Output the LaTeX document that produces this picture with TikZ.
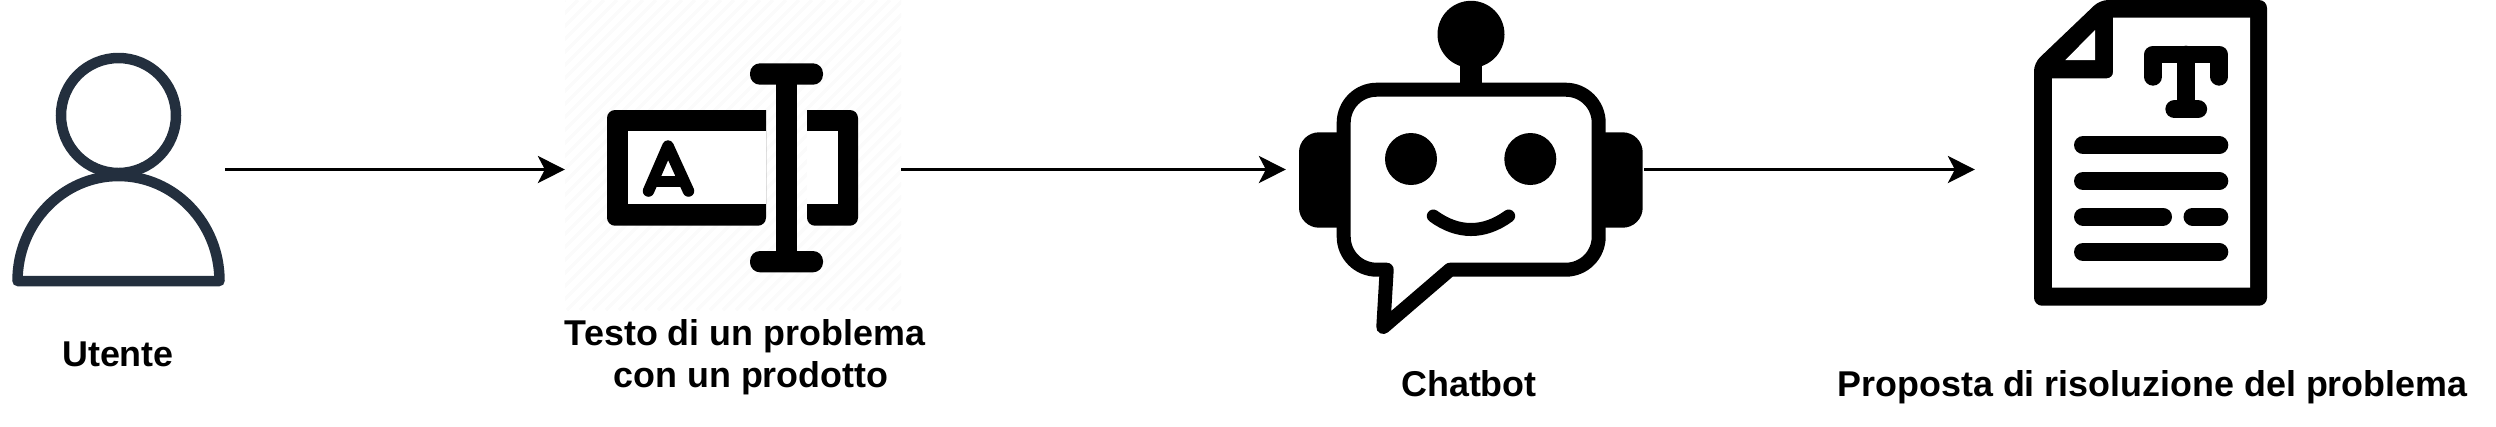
\documentclass[tikz,border=0pt]{standalone}
\usepackage{fontspec}
\setmainfont{Liberation Sans}
\usetikzlibrary{arrows.meta, positioning}

\begin{document}
\begin{tikzpicture}[
        x=0.01cm, y=-0.01cm,
        >={Stealth[length=0.27cm, width=0.27cm, inset=0.07cm]},
        box/.style={inner sep=0pt, outer sep=0pt, minimum height=2.35cm},
        e/.style={->, line width=0.033cm},
        lbl/.style={font=\bfseries\fontsize{10.2pt}{12pt}\selectfont, anchor=base, inner sep=0pt},
        person/.style={draw=personblue, line width=0.105cm, line join=round},
        bar/.style={line width=0.18cm, line cap=round},
        stem/.style={line width=0.177cm, line cap=round, line join=round}
    ]
        \definecolor{personblue}{HTML}{232F3E}
        \definecolor{hatch}{HTML}{FBFBFB}
        \useasboundingbox (0,0) rectangle (2496,426);

        % faint stripes behind the text icon
        \begin{scope}
            \clip (565,0) rectangle (901,310);
            \foreach \k in {565,578,...,1215} {
                \draw[hatch, line width=0.035cm] (\k,0) -- (\k-310,310);
            }
        \end{scope}

        \node[box, minimum width=2.13cm] (utente) at (118.5,169.5) {};
        \node[box, minimum width=3.36cm] (testo) at (733,169.5) {};
        \node[box, minimum width=3.58cm] (chatbot) at (1465,169.5) {};
        \node[box, minimum width=3.51cm] (proposta) at (2150.5,169.5) {};

        \draw[e] (utente) -- (testo);
        \draw[e] (testo) -- (chatbot);
        \draw[e] (chatbot) -- (proposta);

        \node[lbl] (lblutente) at (118,366) {Utente};
        \node[lbl] (lbltesto) at (745,345) {Testo di un problema};
        \node[lbl] (lbltesto2) at (751,387) {con un prodotto};
        \node[lbl] (lblchatbot) at (1469,396) {Chatbot};
        \node[lbl] (lblproposta) at (2152.5,396) {Proposta di risoluzione del problema};

        % utente
        \draw[person] (118.5,115.5) circle (57.5);
        \draw[person] (17.5,281) arc[start angle=180, end angle=360, x radius=101, y radius=105] -- cycle;

        % testo
        \fill (766,110) [rounded corners=0.08cm] -- (607,110) -- (607,225.7) -- (766,225.7) [sharp corners] -- cycle;
        \fill[white] (627.5,131.3) rectangle (766,204.3);
        \fill (807,110) [rounded corners=0.08cm] -- (858,110) -- (858,225.7) -- (807,225.7) [sharp corners] -- cycle;
        \fill[white] (807,131.3) rectangle (837.5,204.3);
        \fill (776,70) rectangle (797,265);
        \fill[rounded corners=0.1cm] (750,63.3) rectangle (823,84.7);
        \fill[rounded corners=0.1cm] (750,251) rectangle (823,272.3);
        \draw[line width=0.115cm, line cap=round, line join=round] (648.5,191) -- (668,146) -- (688.5,191);
        \draw[line width=0.11cm] (655,181.5) -- (681,181.5);

        % chatbot
        \fill (1471,34.3) circle (33.5);
        \fill (1460,50) rectangle (1482.3,90);
        \fill[rounded corners=0.2cm] (1299,132.3) rectangle (1370,227.7);
        \fill[rounded corners=0.2cm] (1572,132.3) rectangle (1642.7,227.7);
        \draw[fill=white, line width=0.14cm, line join=round]
            (1450,269.7) -- (1565.7,269.7) arc[start angle=90, end angle=0, radius=33]
            -- (1598.7,122.7) arc[start angle=0, end angle=-90, radius=33]
            -- (1376.7,89.7) arc[start angle=-90, end angle=-180, radius=33]
            -- (1343.7,236.7) arc[start angle=180, end angle=90, radius=33]
            -- (1386.7,269.7) -- (1383.3,327) -- cycle;
        \fill (1411,159) circle (26);
        \fill (1530.3,159) circle (26);
        \draw[line width=0.13cm, line cap=round] (1433.3,216) .. controls (1458,234) and (1484,234) .. (1508.7,216);

        % proposta
        \fill[rounded corners=0.08cm] (2034,63) -- (2100,0) -- (2267,0) -- (2267,305.7) -- (2034,305.7) -- cycle;
        \fill[white] (2113,17.7) -- (2250,17.7) -- (2250,287.7) -- (2052,287.7) -- (2052,78.3)
            [rounded corners=0.06cm] -- (2113,78.3) [sharp corners] -- cycle;
        \fill[white] (2095,30) -- (2095,60) -- (2065.4,60) -- cycle;
        \draw[stem] (2153,76.8) -- (2153,54.5) -- (2219.3,54.5) -- (2219.3,76.8);
        \draw[stem] (2186,54.5) -- (2186,109);
        \draw[line width=0.183cm, line cap=round] (2174.5,109.2) -- (2198,109.2);
        \foreach \rowy in {145.2,181,252} {
            \draw[bar] (2083,\rowy) -- (2219.3,\rowy);
        }
        \draw[bar] (2083,216.5) -- (2163,216.5);
        \draw[bar] (2192.5,216.5) -- (2219.3,216.5);
    \end{tikzpicture}
\end{document}
